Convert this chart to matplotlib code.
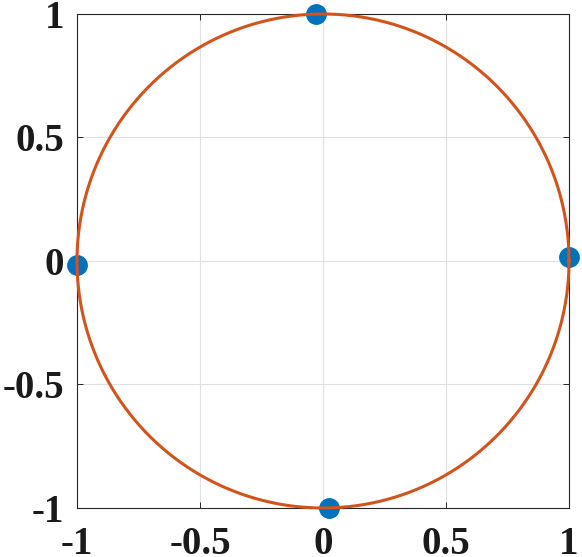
import numpy as np
import matplotlib.pyplot as plt

# circle points
point_x = [-0.028, -1.0, 1.0, 0.024]
point_y = [1.0, -0.016, 0.017, -1.0]
ticks = [-1, -0.5, 0, 0.5, 1]
tick_labels = ["-1", "-0.5", "0", "0.5", "1"]

plt.rcParams['font.family'] = ['Liberation Serif', 'DejaVu Serif']
plt.rcParams['font.weight'] = 'bold'

fig = plt.figure(figsize=(5.82, 5.57), dpi=100)
ax = fig.add_axes([0.1323, 0.088, 0.8454, 0.8869])

theta = np.linspace(0, 2 * np.pi, 400)
ax.plot(point_x, point_y, 'o', color=(0, 0.447, 0.741), markersize=14,
        zorder=2, clip_on=False)
ax.plot(np.cos(theta), np.sin(theta), color=(0.82, 0.33, 0.11),
        linewidth=2.2, zorder=3, clip_on=False)

ax.set_xlim(-1, 1)
ax.set_ylim(-1, 1)
ax.set_xticks(ticks)
ax.set_yticks(ticks)
ax.set_xticklabels(tick_labels, fontsize=28, fontweight='bold')
ax.set_yticklabels(tick_labels, fontsize=28, fontweight='bold')
ax.grid(True, color=(0.88, 0.88, 0.88), linewidth=0.8)
ax.set_axisbelow(True)
ax.tick_params(direction='in', length=4.5, width=0.7, top=True, right=True,
               color=(0.15, 0.15, 0.15), labelcolor=(0.1, 0.1, 0.1))
ax.tick_params(axis='x', pad=13)
ax.tick_params(axis='y', pad=9)
for s in ax.spines.values():
    s.set_color((0.15, 0.15, 0.15))
    s.set_linewidth(0.8)

fig.savefig('out.png', dpi=100)
